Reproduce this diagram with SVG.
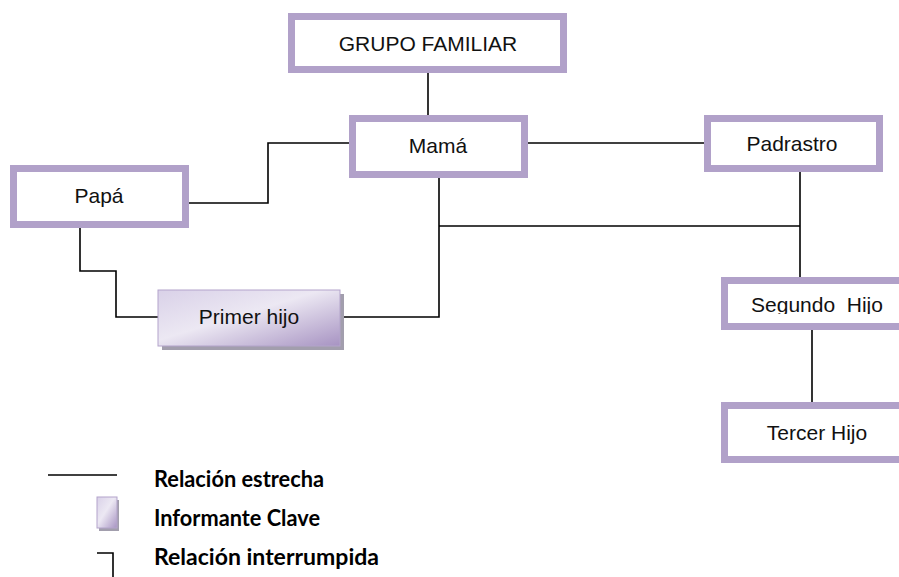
<svg xmlns="http://www.w3.org/2000/svg" width="899" height="577" viewBox="0 0 899 577">
  <defs>
    <style>
      .box { fill: #ffffff; stroke: #b1a1c9; stroke-width: 7; }
      .lbl { font-family: Arial, "Liberation Sans", sans-serif; font-size: 21px; fill: #111111; text-anchor: middle; }
      .ln { fill: none; stroke: #000000; stroke-width: 1.6; }
      .leg { font-family: Lato, "Liberation Sans", sans-serif; font-weight: bold; font-size: 23px; fill: #000000; }
      .shadow { fill: #a29ead; }
    </style>
    <linearGradient id="key" x1="0" y1="0" x2="1" y2="1">
      <stop offset="0" stop-color="#d9d1e8"/>
      <stop offset="0.45" stop-color="#ece8f3"/>
      <stop offset="1" stop-color="#a793c2"/>
    </linearGradient>
    <clipPath id="segclip">
      <rect x="700" y="270" width="199" height="44"/>
    </clipPath>
  </defs>

  <g id="connectors">
    <path class="ln" d="M428 73 V115"/>
    <path class="ln" d="M349 143 H268 V203 H189"/>
    <path class="ln" d="M528 143 H704"/>
    <path class="ln" d="M439 178 V317 H342"/>
    <path class="ln" d="M439 226 H800"/>
    <path class="ln" d="M800 172 V277"/>
    <path class="ln" d="M80 228 V271 H116 V317 H158"/>
    <path class="ln" d="M812 330 V402"/>
  </g>

  <g id="grupo-familiar">
    <rect class="box" x="291.5" y="16.5" width="272" height="53"/>
    <text class="lbl" x="428" y="51">GRUPO FAMILIAR</text>
  </g>

  <g id="mama">
    <rect class="box" x="352.5" y="118.5" width="172" height="56"/>
    <text class="lbl" x="438" y="153">Mamá</text>
  </g>

  <g id="padrastro">
    <rect class="box" x="707.5" y="118.5" width="172" height="50"/>
    <text class="lbl" x="792" y="151">Padrastro</text>
  </g>

  <g id="papa">
    <rect class="box" x="13.5" y="168.5" width="172" height="56"/>
    <text class="lbl" x="99" y="203">Papá</text>
  </g>

  <g id="primer-hijo">
    <rect class="shadow" x="162" y="294" width="182" height="56"/>
    <rect x="158" y="290" width="182" height="56" fill="url(#key)" stroke="#b3a4cb" stroke-width="1"/>
    <text class="lbl" x="249" y="324">Primer hijo</text>
  </g>

  <g id="segundo-hijo">
    <rect class="box" x="724.5" y="280.5" width="200" height="46"/>
    <text class="lbl" x="817" y="312" clip-path="url(#segclip)" xml:space="preserve">Segundo  Hijo</text>
  </g>

  <g id="tercer-hijo">
    <rect class="box" x="724.5" y="405.5" width="200" height="54"/>
    <text class="lbl" x="817" y="440">Tercer Hijo</text>
  </g>

  <g id="legend">
    <path class="ln" d="M48 475 H117"/>
    <rect class="shadow" x="99" y="500" width="20" height="31"/>
    <rect x="97" y="497" width="20" height="31" fill="url(#key)" stroke="#b3a4cb" stroke-width="1"/>
    <path class="ln" d="M97 553 H113 V577"/>
    <text class="leg" x="154" y="487" textLength="170" lengthAdjust="spacingAndGlyphs">Relación estrecha</text>
    <text class="leg" x="154" y="526" textLength="166" lengthAdjust="spacingAndGlyphs">Informante Clave</text>
    <text class="leg" x="154" y="565" textLength="225" lengthAdjust="spacingAndGlyphs">Relación interrumpida</text>
  </g>
</svg>
